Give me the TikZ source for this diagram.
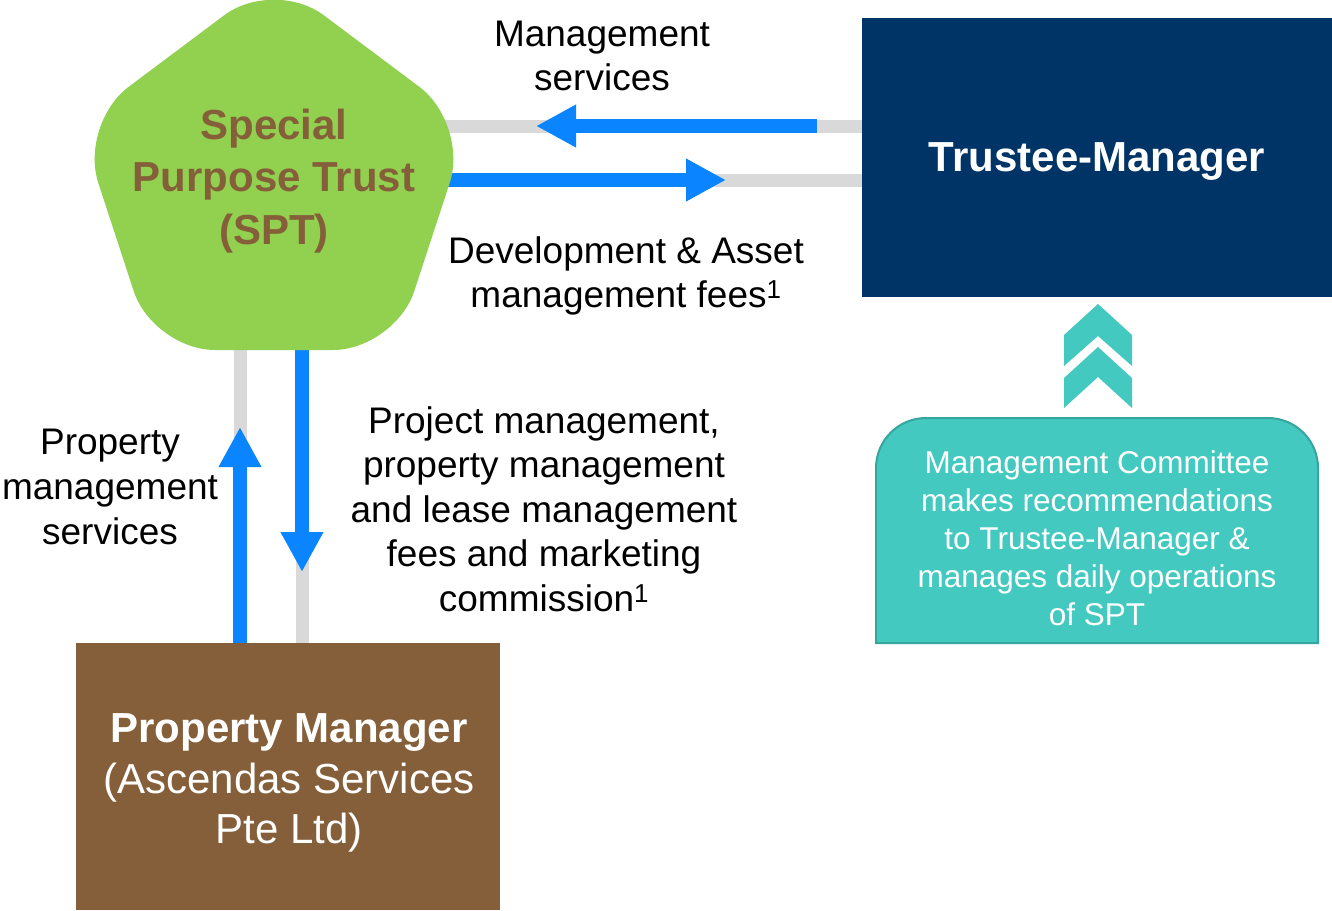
\documentclass[tikz,border=0pt]{standalone}
\usepackage{fontspec}
\setmainfont{Liberation Sans}
\usetikzlibrary{arrows.meta,backgrounds}
\definecolor{sptgreen}{HTML}{92D050}
\definecolor{navy}{HTML}{003366}
\definecolor{pmbrown}{HTML}{845F3A}
\definecolor{flowblue}{HTML}{0A85FF}
\definecolor{railgray}{HTML}{D9D9D9}
\definecolor{mcteal}{HTML}{43C9C0}
\definecolor{tealedge}{HTML}{35A59D}
\begin{document}
\begin{tikzpicture}[x=1pt,y=-1pt,
  rail/.style={draw=railgray,line width=13pt},
  flow/.style={draw=flowblue,line width=14pt,-{Triangle[length=40pt,width=40pt]}},
  lbl/.style={inner sep=0pt,align=center,text=black,font=\fontsize{37}{44.5}\selectfont},
  boxtext/.style={inner sep=0pt,align=center,text=white,font=\fontsize{42}{50.5}\selectfont},
  chev/.style={fill=mcteal,draw=none}]
\useasboundingbox (0,0) rectangle (1332,910);

% Special Purpose Trust (rounded pentagon)
\fill[sptgreen,rounded corners=62pt] (274,-22) -- (79,124) -- (153,350) -- (395,350) -- (469,124) -- cycle;
\node[inner sep=0pt,align=center,text=pmbrown,font=\fontsize{42}{52.5}\bfseries\selectfont] (spt) at (274,181) {Special\\Purpose Trust\\(SPT)};

% Trustee-Manager
\node[fill=navy,minimum width=470pt,minimum height=279pt,inner sep=0pt] (tm) at (1097,157.5) {};
\node[boxtext,font=\fontsize{42}{50}\bfseries\selectfont] (tmtext) at (1097,161) {Trustee-Manager};

% Property Manager
\node[fill=pmbrown,minimum width=424pt,minimum height=267pt,inner sep=0pt] (pm) at (288,776.5) {};
\node[boxtext] (pmtext) at (289,783) {\textbf{Property Manager}\\(Ascendas Services\\Pte Ltd)};

% Management Committee
\path[fill=mcteal,draw=tealedge,line width=2pt] (876,643) -- (876,468) .. controls (876,440.4) and (898.4,418) .. (926,418) -- (1268,418) .. controls (1295.6,418) and (1318,440.4) .. (1318,468) -- (1318,643) -- cycle;
\node[inner sep=0pt,align=center,text=white,font=\fontsize{31.5}{38}\selectfont] (mc) at (1097,538) {Management Committee\\makes recommendations\\to Trustee-Manager \&\\manages daily operations\\of SPT};

% chevrons
\fill[chev] (1064,335) -- (1098,304) -- (1132,335) -- (1132,366) -- (1098,336) -- (1064,366) -- cycle;
\fill[chev] (1064,378) -- (1098,347) -- (1132,378) -- (1132,408) -- (1098,377) -- (1064,408) -- cycle;

% labels
\node[lbl] (l1) at (602,56) {Management\\services};
\node[lbl] (l2) at (626,276) {Development \& Asset\\management fees\textsuperscript{1}};
\node[lbl,font=\fontsize{37}{45}\selectfont] (l3) at (110,487) {Property\\management\\services};
\node[lbl] (l4) at (544,509) {Project management,\\property management\\and lease management\\fees and marketing\\commission\textsuperscript{1}};

% connector end points
\coordinate (r1a) at (440,126); \coordinate (r1b) at (tm.west |- r1a);
\coordinate (r2a) at (440,180); \coordinate (r2b) at (tm.west |- r2a);
\coordinate (r3a) at (240,330); \coordinate (r3b) at (pm.north -| r3a);
\coordinate (r4a) at (302,330); \coordinate (r4b) at (pm.north -| r4a);
\coordinate (f1s) at (817,126); \coordinate (f1e) at (536,126);
\coordinate (f2e) at (726,180);
\coordinate (f3e) at (240,427);
\coordinate (f4e) at (302,572);

\begin{scope}[on background layer]
\draw[rail] (r1a) -- (r1b);
\draw[rail] (r2a) -- (r2b);
\draw[rail] (r3a) -- (r3b);
\draw[rail] (r4a) -- (r4b);
\draw[flow] (f1s) -- (f1e);
\draw[flow] (r2a) -- (f2e);
\draw[flow] (r3b) -- (f3e);
\draw[flow] (r4a) -- (f4e);
\end{scope}
\end{tikzpicture}
\end{document}
